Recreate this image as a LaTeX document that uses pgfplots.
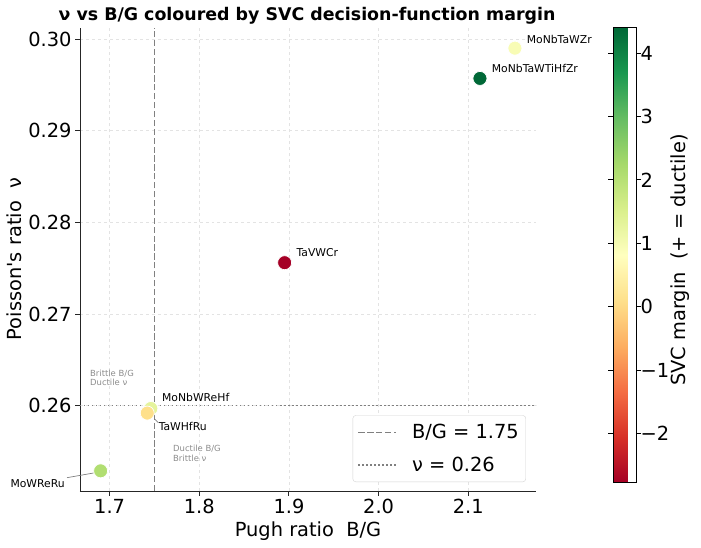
\documentclass[border=0pt]{standalone}
\usepackage{fontspec}
\setmainfont{DejaVu Sans}[Ligatures=TeXOff]
\usepackage{pgfplots}
\usepackage{pgfplotstable}
\pgfplotsset{compat=1.18}

\definecolor{guide}{HTML}{808080}
\definecolor{note}{HTML}{8C8C8C}
\definecolor{spine}{HTML}{262626}

% Pugh ratio B/G, Poisson's ratio nu and the SVC decision-function margin
\pgfplotstableread{
bg     nu      margin
2.152  0.2990   0.95
2.113  0.2957   4.41
1.8952 0.2756  -2.78
1.746  0.2597   1.30
1.742  0.2592   0.10
1.690  0.2529   2.10
}\alloys

\newcommand{\bigfont}{\fontsize{19.4bp}{23bp}\selectfont}
\newcommand{\tagfont}{\fontsize{10.8bp}{13bp}\selectfont}
\newcommand{\notefont}{\fontsize{8.45bp}{9.5bp}\selectfont}

\begin{document}
\begin{tikzpicture}
\begin{axis}[
  at={(0,0)}, anchor=south west,
  scale only axis, width=456bp, height=463bp,
  xmin=1.667, xmax=2.1755, ymin=0.2507, ymax=0.3012,
  axis x line*=bottom, axis y line*=left,
  axis line style={spine, line width=0.9bp},
  xtick={1.7,1.8,1.9,2.0,2.1}, xticklabels={1.7,1.8,1.9,2.0,2.1},
  ytick={0.26,0.27,0.28,0.29,0.30}, yticklabels={0.26,0.27,0.28,0.29,0.30},
  tick align=outside, major tick length=4.9bp,
  tick style={spine, line width=0.9bp},
  ticklabel style={font=\bigfont},
  grid=major, grid style={gray!22, dashed, line width=0.6bp},
  colormap={RdYlGn}{rgb255=(165,0,38) rgb255=(215,48,39) rgb255=(244,109,67)
    rgb255=(253,174,97) rgb255=(254,224,139) rgb255=(255,255,191)
    rgb255=(217,239,139) rgb255=(166,217,106) rgb255=(102,189,99)
    rgb255=(26,152,80) rgb255=(0,104,55)},
  point meta min=-2.78, point meta max=4.41,
  colorbar,
  colorbar style={
    at={(parent axis.south east)}, anchor=south west,
    xshift=68.6bp, yshift=8.3bp,
    scale only axis, width=23bp, height=455.4bp,
    axis lines=box, grid=none,
    ytick={-2,-1,0,1,2,3,4}, yticklabels={−2,−1,0,1,2,3,4},
    yticklabel pos=right, tick align=outside, major tick length=4.9bp,
    tick style={black, line width=0.9bp},
    axis line style={black, line width=0.8bp},
    yticklabel style={font=\bigfont, xshift=-4bp},
  },
  clip=false,
  legend cell align=left,
  legend image code/.code={\draw[#1] (0bp,0bp) -- (38bp,0bp);},
  legend style={at={(axis description cs:0.978,0.0194)}, anchor=south east,
    draw=gray!35, rounded corners=3bp, fill=white, font=\bigfont,
    inner xsep=5bp, inner ysep=7bp, row sep=12.6bp,
    /tikz/every odd column/.append style={column sep=13bp}},
]
\addplot[guide, dash pattern=on 6.2bp off 2.7bp, line width=1.3bp]
  coordinates {(1.75,0.2507) (1.75,0.3012)};
\addlegendentry{B/G = 1.75}
\addplot[guide, dash pattern=on 1.5bp off 2.5bp, line width=1.3bp]
  coordinates {(1.667,0.26) (2.1755,0.26)};
\addlegendentry{ν = 0.26}

\addplot[scatter, only marks, mark=*, mark size=7bp, line width=0.7bp,
  scatter src=explicit,
  scatter/use mapped color={draw=white, fill=mapped color}, forget plot]
  table[x=bg, y=nu, meta=margin] {\alloys};

% alloy tags
\begin{scope}[every node/.style={anchor=base west, inner sep=0pt, font=\tagfont}]
\node at (axis cs:2.1651,0.29946) {MoNbTaWZr};
\node at (axis cs:2.1261,0.29637) {MoNbTaWTiHfZr};
\node at (axis cs:1.9083,0.27633) {TaVWCr};
\node at (axis cs:1.7584,0.26047) {MoNbWReHf};
\node at (axis cs:1.7546,0.25728) {TaWHfRu};
\node at (axis cs:1.5893,0.25110) {MoWReRu};
\end{scope}
\draw[gray, line width=0.7bp] (axis cs:1.7498,0.25858) -- (axis cs:1.7543,0.25815);
\draw[gray, line width=0.7bp] (axis cs:1.6525,0.252153) -- (axis cs:1.6822,0.252665);

% quadrant notes
\begin{scope}[every node/.style={anchor=base west, align=left, inner sep=0pt,
    font=\notefont, text=note}]
\node at (axis cs:1.6781,0.26218) {Brittle B/G\\Ductile ν};
\node at (axis cs:1.7707,0.25393) {Ductile B/G\\Brittle ν};
\end{scope}
\end{axis}

\node[anchor=base, font=\bfseries\fontsize{17.4bp}{20bp}\selectfont] at (227bp,470.3bp)
  {ν vs B/G coloured by SVC decision-function margin};
\node[anchor=base, font=\bigfont] at (228bp,-45.7bp) {Pugh ratio\ \ B/G};
\node[anchor=base, rotate=90, font=\bigfont] at (-58bp,232bp) {Poisson's ratio\ \ ν};
\node[anchor=base, rotate=90, font=\bigfont] at (605.8bp,231bp) {SVC margin\ \ (+ = ductile)};

\pgfresetboundingbox
\path[use as bounding box] (-80bp,-57bp) rectangle (621bp,491bp);
\end{tikzpicture}
\end{document}
